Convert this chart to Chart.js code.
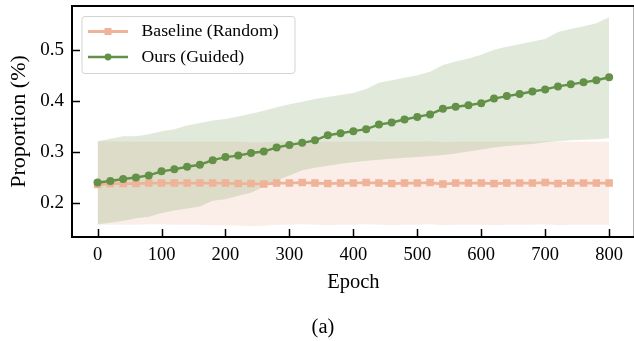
<!DOCTYPE html>
<html>
<head>
<meta charset="utf-8">
<script src="https://cdn.jsdelivr.net/npm/chart.js@4"></script>
<style>
html, body { margin: 0; padding: 0; background: #fff; overflow: hidden; }
#wrap { position: relative; width: 634px; height: 341px; overflow: hidden; }
#caption { position: absolute; left: 0; width: 646px; top: 315px; line-height: 22px; text-align: center; font: 20.5px "Liberation Serif", serif; color: #000; }
</style>
</head>
<body>
<div id="wrap">
  <canvas id="myChart" width="640" height="341"></canvas>
  <div id="caption">(a)</div>
</div>
<script>
// ---- data ----
const epochs = [0, 20, 40, 60, 80, 100, 120, 140, 160, 180, 200, 220, 240, 260, 280, 300, 320, 340, 360, 380, 400,
  420, 440, 460, 480, 500, 520, 540, 560, 580, 600, 620, 640, 660, 680, 700, 720, 740, 760, 780, 800];

const baseline = [0.236, 0.238, 0.238, 0.238, 0.239, 0.239, 0.239, 0.239, 0.239, 0.239, 0.239, 0.238, 0.238, 0.237, 0.239, 0.239, 0.240, 0.239, 0.238, 0.239, 0.239,
  0.240, 0.239, 0.238, 0.239, 0.239, 0.240, 0.237, 0.239, 0.239, 0.239, 0.238, 0.239, 0.239, 0.239, 0.240, 0.238, 0.239, 0.239, 0.239, 0.239];
const baselineUpper = [0.321, 0.321, 0.320, 0.320, 0.320, 0.320, 0.320, 0.320, 0.320, 0.320, 0.320, 0.320, 0.319, 0.319, 0.320, 0.320, 0.321, 0.320, 0.320, 0.320, 0.320,
  0.321, 0.320, 0.320, 0.320, 0.320, 0.321, 0.319, 0.320, 0.320, 0.320, 0.320, 0.320, 0.320, 0.320, 0.321, 0.320, 0.320, 0.320, 0.320, 0.320];
const baselineLower = [0.157, 0.157, 0.157, 0.157, 0.158, 0.158, 0.157, 0.157, 0.157, 0.156, 0.156, 0.155, 0.154, 0.155, 0.157, 0.157, 0.158, 0.157, 0.156, 0.157, 0.157,
  0.158, 0.157, 0.156, 0.157, 0.157, 0.158, 0.156, 0.157, 0.157, 0.157, 0.156, 0.157, 0.157, 0.157, 0.158, 0.156, 0.157, 0.157, 0.157, 0.157];

const guided = [0.240, 0.243, 0.247, 0.250, 0.254, 0.262, 0.266, 0.271, 0.275, 0.284, 0.290, 0.293, 0.298, 0.301, 0.309, 0.314, 0.318, 0.323, 0.333, 0.337, 0.341,
  0.345, 0.354, 0.358, 0.364, 0.369, 0.374, 0.385, 0.389, 0.392, 0.396, 0.405, 0.410, 0.414, 0.419, 0.423, 0.429, 0.433, 0.437, 0.441, 0.447];
const guidedUpper = [0.321, 0.326, 0.331, 0.331, 0.335, 0.341, 0.345, 0.352, 0.357, 0.362, 0.365, 0.370, 0.375, 0.381, 0.388, 0.394, 0.399, 0.404, 0.408, 0.412, 0.416,
  0.424, 0.436, 0.441, 0.446, 0.451, 0.458, 0.471, 0.478, 0.484, 0.491, 0.501, 0.507, 0.512, 0.517, 0.522, 0.536, 0.542, 0.547, 0.553, 0.565];
const guidedLower = [0.158, 0.161, 0.165, 0.170, 0.173, 0.180, 0.185, 0.189, 0.193, 0.204, 0.207, 0.214, 0.220, 0.232, 0.244, 0.254, 0.264, 0.269, 0.273, 0.277, 0.280,
  0.283, 0.285, 0.287, 0.289, 0.290, 0.292, 0.294, 0.297, 0.301, 0.305, 0.309, 0.312, 0.314, 0.316, 0.319, 0.321, 0.323, 0.324, 0.325, 0.327];

const seriesNames = ['Baseline (Random)', 'Ours (Guided)'];
const xTicks = [0, 100, 200, 300, 400, 500, 600, 700, 800];
const yTicks = [0.2, 0.3, 0.4, 0.5];
const yTickLabels = ['0.2', '0.3', '0.4', '0.5'];

const pinkColor = '#eeb398'
const greenColor = '#639147'
const pinkFill = 'rgba(238, 179, 152, 0.22)'
const greenFill = 'rgba(99, 145, 71, 0.2)'
const serif = '"Liberation Serif", "Times New Roman", serif'

function pts(arr) {
  return epochs.map((e, i) => ({ x: e, y: arr[i] }));
}

function band(arr, fillTo, color) {
  return {
    data: pts(arr),
    borderWidth: 0,
    pointRadius: 0,
    fill: fillTo,
    backgroundColor: color,
    tension: 0
  };
}

// ---- frame, inward ticks, legend ----
const framePlugin = {
  id: 'frame',
  afterDraw(chart) {
    const ctx = chart.ctx;
    const a = chart.chartArea;
    const xs = chart.scales.x;
    const ys = chart.scales.y;
    ctx.save();
    ctx.strokeStyle = '#000';
    ctx.lineWidth = 1.5;
    xTicks.forEach(v => {
      const px = Math.round(xs.getPixelForValue(v)) + 0.5;
      ctx.beginPath();
      ctx.moveTo(px, a.bottom);
      ctx.lineTo(px, a.bottom - 8);
      ctx.stroke();
    });
    yTicks.forEach(v => {
      const py = Math.round(ys.getPixelForValue(v)) + 0.5;
      ctx.beginPath();
      ctx.moveTo(a.left, py);
      ctx.lineTo(a.left + 8, py);
      ctx.stroke();
    });
    ctx.lineWidth = 2;
    ctx.strokeRect(a.left, a.top, a.right - a.left, a.bottom - a.top);

    // legend
    ctx.beginPath();
    ctx.roundRect(82, 16.5, 213, 57, 3);
    ctx.fillStyle = 'rgba(255,255,255,0.8)';
    ctx.fill();
    ctx.strokeStyle = '#d3d3d3';
    ctx.lineWidth = 1;
    ctx.stroke();

    const rows = [
      { label: chart.data.datasets[1].label, color: pinkColor, style: 'rect', lw: 2.8, y: 31.5 },
      { label: chart.data.datasets[0].label, color: greenColor, style: 'circle', lw: 2.3, y: 57 }
    ];
    rows.forEach(r => {
      ctx.strokeStyle = r.color;
      ctx.lineWidth = r.lw;
      ctx.beginPath();
      ctx.moveTo(88, r.y);
      ctx.lineTo(128, r.y);
      ctx.stroke();
      ctx.fillStyle = r.color;
      if (r.style === 'rect') {
        ctx.fillRect(104.5, r.y - 3.5, 7, 7);
      } else {
        ctx.beginPath();
        ctx.arc(108, r.y, 3.4, 0, Math.PI * 2);
        ctx.fill();
      }
      ctx.fillStyle = '#000';
      ctx.font = '17.7px ' + serif;
      ctx.textBaseline = 'middle';
      ctx.textAlign = 'left';
      ctx.fillText(r.label, 141.5, r.y);
    });
    ctx.restore();
  }
};

var ctx = document.getElementById('myChart');
var lineChart = new Chart(ctx, {
  type: 'line',
  data: {
    datasets: [
      {
        label: seriesNames[1],
        data: pts(guided),
        borderColor: greenColor,
        backgroundColor: greenColor,
        borderWidth: 2.4,
        pointStyle: 'circle',
        pointRadius: 4,
        pointBorderWidth: 0,
        pointBackgroundColor: greenColor,
        fill: false,
        tension: 0
      },
      {
        label: seriesNames[0],
        data: pts(baseline),
        borderColor: pinkColor,
        backgroundColor: pinkColor,
        borderWidth: 2.8,
        pointStyle: 'rect',
        pointRadius: 5.3,
        pointBorderWidth: 0,
        pointBackgroundColor: pinkColor,
        fill: false,
        tension: 0
      },
      band(guidedUpper, 3, greenFill),
      band(guidedLower, false, 'transparent'),
      band(baselineUpper, 5, pinkFill),
      band(baselineLower, false, 'transparent')
    ]
  },
  options: {
    responsive: false,
    animation: false,
    devicePixelRatio: 1,
    layout: { padding: { top: 6, right: 3.5, bottom: 0, left: 0 } },
    plugins: {
      legend: { display: false },
      tooltip: { enabled: false }
    },
    scales: {
      x: {
        type: 'linear',
        min: -40,
        max: 840,
        grid: { display: false, drawTicks: false },
        border: { display: false },
        afterBuildTicks: s => { s.ticks = xTicks.map(v => ({ value: v })); },
        afterFit: s => { s.height = 104; s.paddingLeft = 0; s.paddingRight = 0; },
        ticks: {
          color: '#000',
          padding: 7,
          maxRotation: 0,
          font: { family: serif, size: 18.5 },
          callback: v => String(v)
        },
        title: {
          display: true,
          text: 'Epoch',
          color: '#000',
          font: { family: serif, size: 20.5 },
          padding: { top: 0, bottom: 46 }
        }
      },
      y: {
        min: 0.133,
        max: 0.587,
        grid: { display: false, drawTicks: false },
        border: { display: false },
        afterBuildTicks: s => { s.ticks = yTicks.map(v => ({ value: v })); },
        afterFit: s => { s.width = 72; s.paddingTop = 0; s.paddingBottom = 0; },
        ticks: {
          color: '#000',
          padding: 8,
          font: { family: serif, size: 19 },
          callback: (v, i) => yTickLabels[i]
        },
        title: {
          display: true,
          text: 'Proportion (%)',
          color: '#000',
          font: { family: serif, size: 22 },
          padding: { top: 6.5, bottom: 0 }
        }
      }
    }
  },
  plugins: [framePlugin]
});
</script>
</body>
</html>
